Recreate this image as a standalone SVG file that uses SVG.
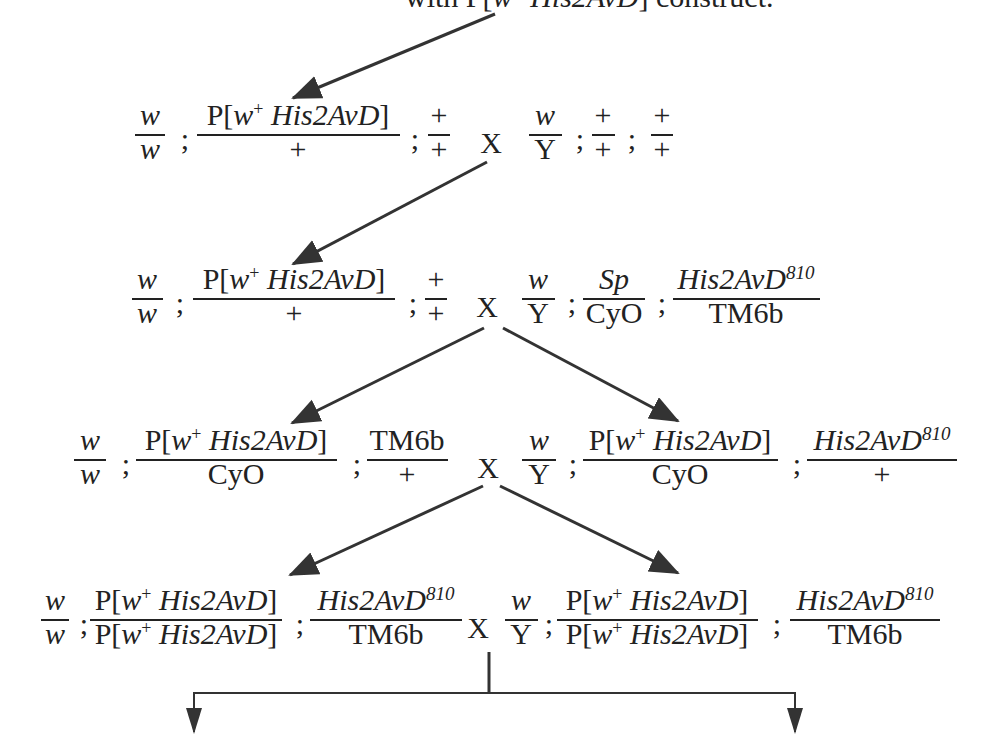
<svg xmlns="http://www.w3.org/2000/svg" width="982" height="734" viewBox="0 0 982 734">
<style>
.t{font-family:"Liberation Serif","Times New Roman",serif;font-size:30px;fill:#222;text-anchor:middle}
.s{font-family:"Liberation Serif","Times New Roman",serif;font-size:30px;fill:#222}
.i{font-style:italic}
.fl{stroke:#222;stroke-width:2}
.c{stroke:#333;stroke-width:3;fill:none}
.c2{stroke:#333;stroke-width:2;fill:none}
.ah{fill:#333}
</style>
<defs>
<marker id="big" markerUnits="userSpaceOnUse" markerWidth="30" markerHeight="26" refX="28" refY="12" orient="auto"><path class="ah" d="M0,0 L30,12 L0,24 z"/></marker>
<marker id="small" markerUnits="userSpaceOnUse" markerWidth="26" markerHeight="18" refX="24" refY="8" orient="auto"><path class="ah" d="M0,0 L26,8 L0,16 z"/></marker>
</defs>

<g id="header">
<text class="s" x="405" y="7">with P[<tspan class="i">w</tspan><tspan font-size="18" dy="-10">+</tspan><tspan dy="10"> </tspan><tspan class="i">His2AvD</tspan>] construct.</text>
</g>

<g id="connectors">
<line class="c" x1="495" y1="14" x2="293" y2="98" marker-end="url(#big)"/>
<line class="c" x1="487" y1="162" x2="293" y2="264" marker-end="url(#big)"/>
<line class="c" x1="484" y1="328" x2="292" y2="423" marker-end="url(#big)"/>
<line class="c" x1="503" y1="328" x2="678" y2="421" marker-end="url(#big)"/>
<line class="c" x1="483" y1="486" x2="290" y2="575" marker-end="url(#big)"/>
<line class="c" x1="500" y1="486" x2="678" y2="573" marker-end="url(#big)"/>
<line class="c" x1="489" y1="652" x2="489" y2="693"/>
<polyline class="c2" points="194,712 194,693 795,693 795,712"/>
<line class="c2" x1="194" y1="693" x2="194" y2="732" marker-end="url(#small)"/>
<line class="c2" x1="795" y1="693" x2="795" y2="732" marker-end="url(#small)"/>
</g>

<!-- Row 1 -->
<g id="r1-female">
<text class="t i" x="150" y="125">w</text><line class="fl" x1="135" y1="135" x2="165" y2="135"/><text class="t i" x="150" y="159">w</text>
<text class="t" x="185" y="149">;</text>
<text class="t" x="298" y="125">P[<tspan class="i">w</tspan><tspan font-size="18" dy="-10">+</tspan><tspan dy="10"> </tspan><tspan class="i">His2AvD</tspan>]</text>
<line class="fl" x1="197" y1="135" x2="400" y2="135"/><text class="t" x="298" y="159">+</text>
<text class="t" x="415" y="149">;</text>
<text class="t" x="439" y="125">+</text><line class="fl" x1="428" y1="135" x2="450" y2="135"/><text class="t" x="439" y="159">+</text>
</g>
<g id="r1-cross"><text class="t" x="491" y="153">X</text></g>
<g id="r1-male">
<text class="t i" x="545" y="125">w</text><line class="fl" x1="529" y1="135" x2="562" y2="135"/><text class="t" x="545" y="159">Y</text>
<text class="t" x="580" y="149">;</text>
<text class="t" x="603" y="125">+</text><line class="fl" x1="592" y1="135" x2="615" y2="135"/><text class="t" x="603" y="159">+</text>
<text class="t" x="632" y="149">;</text>
<text class="t" x="662" y="125">+</text><line class="fl" x1="651" y1="135" x2="673" y2="135"/><text class="t" x="662" y="159">+</text>
</g>

<!-- Row 2 -->
<g id="r2-female">
<text class="t i" x="147" y="289">w</text><line class="fl" x1="132" y1="299" x2="163" y2="299"/><text class="t i" x="147" y="323">w</text>
<text class="t" x="180" y="313">;</text>
<text class="t" x="294" y="289">P[<tspan class="i">w</tspan><tspan font-size="18" dy="-10">+</tspan><tspan dy="10"> </tspan><tspan class="i">His2AvD</tspan>]</text>
<line class="fl" x1="193" y1="299" x2="395" y2="299"/><text class="t" x="294" y="323">+</text>
<text class="t" x="413" y="313">;</text>
<text class="t" x="436" y="289">+</text><line class="fl" x1="425" y1="299" x2="447" y2="299"/><text class="t" x="436" y="323">+</text>
</g>
<g id="r2-cross"><text class="t" x="487" y="317">X</text></g>
<g id="r2-male">
<text class="t i" x="538" y="289">w</text><line class="fl" x1="522" y1="299" x2="555" y2="299"/><text class="t" x="538" y="323">Y</text>
<text class="t" x="572" y="313">;</text>
<text class="t i" x="614" y="289">Sp</text><line class="fl" x1="583" y1="299" x2="645" y2="299"/><text class="t" x="614" y="323">CyO</text>
<text class="t" x="662" y="313">;</text>
<text class="t" x="746" y="289"><tspan class="i">His2AvD</tspan><tspan class="i" font-size="19" dy="-10">810</tspan></text>
<line class="fl" x1="673" y1="299" x2="820" y2="299"/><text class="t" x="746" y="323">TM6b</text>
</g>

<!-- Row 3 -->
<g id="r3-female">
<text class="t i" x="90" y="450">w</text><line class="fl" x1="74" y1="460" x2="106" y2="460"/><text class="t i" x="90" y="484">w</text>
<text class="t" x="126" y="474">;</text>
<text class="t" x="236" y="450">P[<tspan class="i">w</tspan><tspan font-size="18" dy="-10">+</tspan><tspan dy="10"> </tspan><tspan class="i">His2AvD</tspan>]</text>
<line class="fl" x1="136" y1="460" x2="337" y2="460"/><text class="t" x="236" y="484">CyO</text>
<text class="t" x="357" y="474">;</text>
<text class="t" x="407" y="450">TM6b</text><line class="fl" x1="367" y1="460" x2="448" y2="460"/><text class="t" x="407" y="484">+</text>
</g>
<g id="r3-cross"><text class="t" x="488" y="478">X</text></g>
<g id="r3-male">
<text class="t i" x="539" y="450">w</text><line class="fl" x1="522" y1="460" x2="556" y2="460"/><text class="t" x="539" y="484">Y</text>
<text class="t" x="573" y="474">;</text>
<text class="t" x="680" y="450">P[<tspan class="i">w</tspan><tspan font-size="18" dy="-10">+</tspan><tspan dy="10"> </tspan><tspan class="i">His2AvD</tspan>]</text>
<line class="fl" x1="583" y1="460" x2="778" y2="460"/><text class="t" x="680" y="484">CyO</text>
<text class="t" x="797" y="474">;</text>
<text class="t" x="882" y="450"><tspan class="i">His2AvD</tspan><tspan class="i" font-size="19" dy="-10">810</tspan></text>
<line class="fl" x1="807" y1="460" x2="957" y2="460"/><text class="t" x="882" y="484">+</text>
</g>

<!-- Row 4 -->
<g id="r4-female">
<text class="t i" x="55" y="610">w</text><line class="fl" x1="41" y1="620" x2="69" y2="620"/><text class="t i" x="55" y="644">w</text>
<text class="t" x="84" y="634">;</text>
<text class="t" x="186" y="610">P[<tspan class="i">w</tspan><tspan font-size="18" dy="-10">+</tspan><tspan dy="10"> </tspan><tspan class="i">His2AvD</tspan>]</text>
<line class="fl" x1="90" y1="620" x2="282" y2="620"/>
<text class="t" x="186" y="644">P[<tspan class="i">w</tspan><tspan font-size="18" dy="-10">+</tspan><tspan dy="10"> </tspan><tspan class="i">His2AvD</tspan>]</text>
<text class="t" x="300" y="634">;</text>
<text class="t" x="386" y="610"><tspan class="i">His2AvD</tspan><tspan class="i" font-size="19" dy="-10">810</tspan></text>
<line class="fl" x1="310" y1="620" x2="462" y2="620"/><text class="t" x="386" y="644">TM6b</text>
</g>
<g id="r4-cross"><text class="t" x="478" y="638">X</text></g>
<g id="r4-male">
<text class="t i" x="521" y="610">w</text><line class="fl" x1="505" y1="620" x2="538" y2="620"/><text class="t" x="521" y="644">Y</text>
<text class="t" x="549" y="634">;</text>
<text class="t" x="657" y="610">P[<tspan class="i">w</tspan><tspan font-size="18" dy="-10">+</tspan><tspan dy="10"> </tspan><tspan class="i">His2AvD</tspan>]</text>
<line class="fl" x1="557" y1="620" x2="758" y2="620"/>
<text class="t" x="657" y="644">P[<tspan class="i">w</tspan><tspan font-size="18" dy="-10">+</tspan><tspan dy="10"> </tspan><tspan class="i">His2AvD</tspan>]</text>
<text class="t" x="777" y="634">;</text>
<text class="t" x="865" y="610"><tspan class="i">His2AvD</tspan><tspan class="i" font-size="19" dy="-10">810</tspan></text>
<line class="fl" x1="790" y1="620" x2="940" y2="620"/><text class="t" x="865" y="644">TM6b</text>
</g>
</svg>
